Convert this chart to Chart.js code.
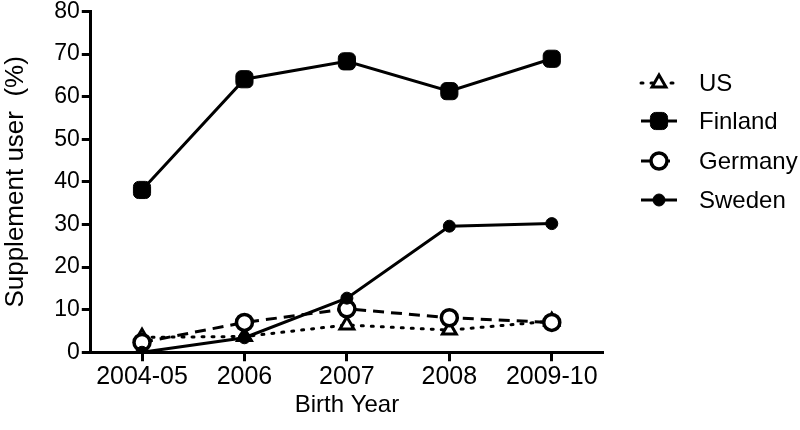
<!DOCTYPE html>
<html>
<head>
<meta charset="utf-8">
<script src="https://cdn.jsdelivr.net/npm/chart.js@4.4.1/dist/chart.umd.min.js"></script>
<style>
  html, body { margin: 0; padding: 0; background: #fff; }
  #wrap { width: 800px; height: 430px; }
</style>
</head>
<body>
<div id="wrap"><canvas id="my-chart" width="800" height="430"></canvas></div>
<script>
'use strict';

// ******** DATA **************
let birthYears = ['2004-05', '2006', '2007', '2008', '2009-10'];
let usValues = [3.5, 3.7, 6.4, 5.2, 7.3];
let finlandValues = [38.1, 64.1, 68.3, 61.3, 68.9];
let germanyValues = [2.3, 7.0, 10.2, 8.1, 7.0];
let swedenValues = [0, 3.4, 12.7, 29.6, 30.2];
let yTicks = [0, 10, 20, 30, 40, 50, 60, 70, 80];

const FONT = '"Liberation Sans", Arial, Helvetica, sans-serif';

// ******** LEGEND PLUGIN (line + marker like the original) **************
let sideLegend = {
  id: 'sideLegend',
  afterDraw(chart) {
    let ctx = chart.ctx;
    let rowY = [83, 121, 161, 200];
    chart.data.datasets.forEach(function (ds, i) {
      let y = rowY[i];
      ctx.save();
      ctx.strokeStyle = '#000';
      ctx.lineWidth = 3;
      ctx.setLineDash(ds.borderDash || []);
      ctx.lineCap = ds.borderCapStyle || 'butt';
      ctx.beginPath();
      ctx.moveTo(641, y);
      ctx.lineTo(677, y);
      ctx.stroke();
      ctx.setLineDash([]);
      ctx.fillStyle = ds.pointBackgroundColor;
      ctx.strokeStyle = ds.pointBorderColor;
      ctx.lineWidth = ds.pointBorderWidth;
      Chart.helpers.drawPoint(ctx, {
        pointStyle: ds.pointStyle,
        radius: ds.pointRadius,
        rotation: 0,
        borderWidth: ds.pointBorderWidth
      }, 659, y);
      ctx.fillStyle = '#000';
      ctx.font = '24px ' + FONT;
      ctx.textBaseline = 'middle';
      ctx.textAlign = 'left';
      ctx.fillText(ds.label, 699, y + 1);
      ctx.restore();
    });
  }
};

// ******** CHART **************
let canvasElem = document.getElementById('my-chart');

let myObj = {
  type: 'line',
  data: {
    labels: birthYears,
    datasets: [
      {
        label: 'US',
        data: usValues,
        borderColor: '#000',
        borderWidth: 3,
        borderDash: [2, 8],
        borderCapStyle: 'round',
        pointStyle: 'triangle',
        pointRadius: 8,
        pointBackgroundColor: '#fff',
        pointBorderColor: '#000',
        pointBorderWidth: 3,
        order: 4
      },
      {
        label: 'Finland',
        data: finlandValues,
        borderColor: '#000',
        borderWidth: 3,
        pointStyle: 'rectRounded',
        pointRadius: 10,
        pointBackgroundColor: '#000',
        pointBorderColor: '#000',
        pointBorderWidth: 1,
        order: 1
      },
      {
        label: 'Germany',
        data: germanyValues,
        borderColor: '#000',
        borderWidth: 3,
        borderDash: [11, 7],
        pointStyle: 'circle',
        pointRadius: 8,
        pointBackgroundColor: '#fff',
        pointBorderColor: '#000',
        pointBorderWidth: 3.5,
        order: 3
      },
      {
        label: 'Sweden',
        data: swedenValues,
        borderColor: '#000',
        borderWidth: 3,
        pointStyle: 'circle',
        pointRadius: 6,
        pointBackgroundColor: '#000',
        pointBorderColor: '#000',
        pointBorderWidth: 1,
        order: 2
      }
    ]
  },
  options: {
    responsive: false,
    animation: false,
    layout: { padding: { left: 0, right: 197, top: 9, bottom: 13 } },
    plugins: {
      legend: { display: false },
      tooltip: { enabled: false }
    },
    scales: {
      x: {
        offset: true,
        grid: { display: true, drawOnChartArea: false, tickLength: 9, tickWidth: 3, color: '#000' },
        border: { display: true, color: '#000', width: 3 },
        ticks: { color: '#000', font: { family: FONT, size: 25, lineHeight: 0.95 }, padding: 4, maxRotation: 0 },
        title: { display: true, text: 'Birth Year', color: '#000', font: { family: FONT, size: 24, lineHeight: 1.0 }, padding: { top: 0, bottom: 0 } }
      },
      y: {
        min: 0,
        max: 80,
        afterBuildTicks: function (axis) {
          axis.ticks = yTicks.map(function (v) { return { value: v }; });
        },
        grid: { display: true, drawOnChartArea: false, tickLength: 9, tickWidth: 3, color: '#000' },
        border: { display: true, color: '#000', width: 3 },
        ticks: { color: '#000', font: { family: FONT, size: 23, lineHeight: 0.6 }, padding: 2 },
        title: { display: true, text: 'Supplement user  (%)', color: '#000', font: { family: FONT, size: 26 }, padding: { top: 0, bottom: 21 } }
      }
    }
  },
  plugins: [sideLegend]
};

new Chart(canvasElem, myObj);
</script>
</body>
</html>
